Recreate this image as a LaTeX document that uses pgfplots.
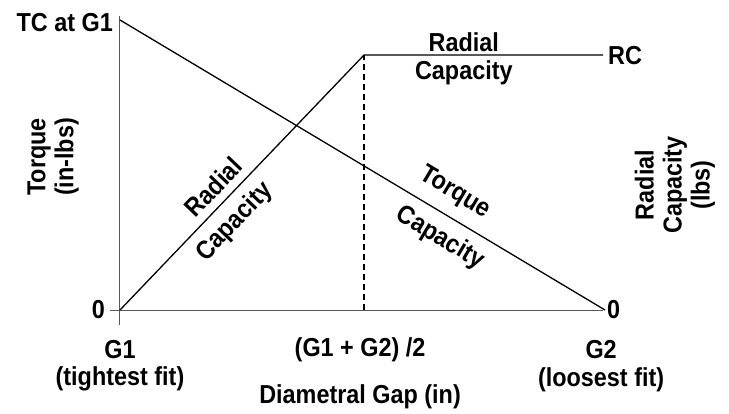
\documentclass[border=0pt]{standalone}
\usepackage{fontspec}
\setmainfont{Liberation Sans}[FakeStretch=0.9]
\usepackage{pgfplots}
\pgfplotsset{compat=1.18}
\tikzset{lab/.style={font=\fontsize{26}{28}\selectfont\bfseries, inner sep=0pt, align=center}}
\begin{document}
\begin{tikzpicture}
\begin{axis}[
  width=729pt, height=414pt, scale only axis,
  xmin=-0.2474, xmax=1.2557, ymin=-0.3586, ymax=1.0690,
  axis lines=none, clip=false,
]
\path (rel axis cs:0,0) rectangle (rel axis cs:1,1);
% axis lines
\addplot[black!65, line width=1pt] coordinates {(0,-0.052) (0,1.014)};
\addplot[black!65, line width=1pt] coordinates {(-0.0206,0) (0.996,0)};
% dashed midpoint
\addplot[black, line width=1.2pt, dash pattern=on 6pt off 4pt] coordinates {(0.503,0) (0.503,0.879)};
% torque capacity
\addplot[black, line width=1.3pt] coordinates {(0,1) (1,0)};
% radial capacity
\addplot[black, line width=1.3pt] coordinates {(0,0) (0.503,0.879) (0.996,0.879)};
% labels
\node[lab, anchor=east] at (axis cs:-0.0144,0.99) {TC at G1};
\node[lab, anchor=east] at (axis cs:-0.0309,0) {0};
\node[lab, anchor=west] at (axis cs:1.0041,0) {0};
\node[lab, anchor=west] at (axis cs:1.0062,0.879) {RC};
\node[lab] at (axis cs:0,-0.138) {G1};
\node[lab] at (axis cs:0,-0.238) {(tightest fit)};
\node[lab] at (axis cs:0.495,-0.138) {(G1 + G2) /2};
\node[lab] at (axis cs:0.495,-0.30) {Diametral Gap (in)};
\node[lab] at (axis cs:0.992,-0.138) {G2};
\node[lab] at (axis cs:0.992,-0.240) {(loosest fit)};
\node[lab, rotate=90] at (axis cs:-0.138,0.5276) {Torque\\(in-lbs)};
\node[lab, rotate=90] at (axis cs:1.1443,0.431) {Radial\\Capacity\\(lbs)};
\node[lab] at (axis cs:0.709,0.924) {Radial};
\node[lab] at (axis cs:0.709,0.818) {Capacity};
\node[lab, rotate=46.3] at (axis cs:0.1918,0.424) {Radial};
\node[lab, rotate=46.3] at (axis cs:0.237,0.303) {Capacity};
\node[lab, rotate=-30.9] at (axis cs:0.6907,0.4034) {Torque};
\node[lab, rotate=-30.9] at (axis cs:0.660,0.248) {Capacity};
\end{axis}
\end{tikzpicture}
\end{document}
